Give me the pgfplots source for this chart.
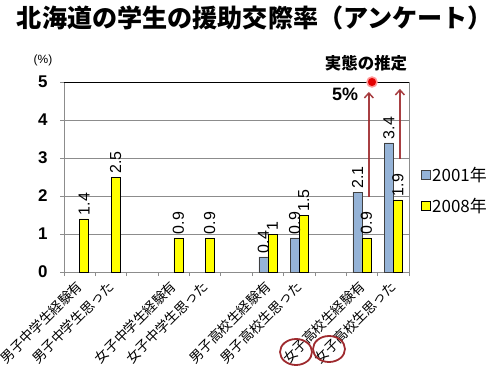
\documentclass[border=0pt]{standalone}
\usepackage{fontspec}
\setmainfont{Liberation Sans}
\newfontfamily\jp{Noto Sans CJK JP}
\usepackage{pgfplots}
\pgfplotsset{compat=1.18}
\usetikzlibrary{arrows.meta}
\definecolor{blu}{HTML}{95B3D7}
\definecolor{ylw}{HTML}{FFFF00}
\definecolor{dred}{HTML}{9E2A2E}
\begin{document}
\begin{tikzpicture}[x=1bp,y=1bp]
\path[use as bounding box] (0,0) rectangle (500,368);
\node[font=\jp\bfseries\fontsize{25.2}{25.2}\selectfont] at (255,350) {北海道の学生の援助交際率（アンケート）};
\node[font=\fontsize{12}{12}\selectfont] at (43,308) {(\%)};
\begin{axis}[at={(64bp,96bp)}, anchor=south west, scale only axis,
  width=345bp, height=190bp,
  xmin=-0.5, xmax=10.5, ymin=0, ymax=5,
  clip=false,
  /pgf/number format/assume math mode=true,
  ytick={0,1,2,3,4,5},
  yticklabel style={font=\bfseries\fontsize{17}{17}\selectfont, xshift=-9bp},
  ymajorgrids, grid style={gray!90, line width=0.8pt},
  axis line style={gray!90, line width=0.8pt},
  tick style={gray!90, line width=0.8pt},
  tick align=outside, xtick pos=bottom, ytick pos=left,
  major tick length=4bp, minor tick length=4bp,
  xtick={0,1,3,4,6,7,9,10},
  xticklabels={男子中学生経験有,男子中学生思った,女子中学生経験有,女子中学生思った,男子高校生経験有,男子高校生思った,女子高校生経験有,女子高校生思った},
  major x tick style={draw=none},
  minor xtick={-0.5,0.5,1.5,2.5,3.5,4.5,5.5,6.5,7.5,8.5,9.5,10.5},
  xticklabel style={font=\jp\fontsize{13.6}{13.6}\selectfont, xshift=1bp, yshift=-7bp, rotate=45, anchor=east, inner sep=1bp},
  nodes near coords,
  legend style={draw=none, fill=none, at={(1.025,0.43)}, anchor=west, font=\jp\fontsize{17}{17}\selectfont, row sep=11bp},
  legend cell align=left,
  legend image code/.code={\draw[#1] (0bp,-4.5bp) rectangle (9bp,4.5bp);},
]
\addplot[ybar, bar width=9bp, bar shift=-4.5bp, fill=blu, draw=black!75,
  every node near coord/.style={xshift=-4.5bp, rotate=90, anchor=west, font=\fontsize{16}{16}\selectfont, black}] coordinates {(6,0.4) (7,0.9) (9,2.1) (10,3.4)};
\addlegendentry{2001年}
\addplot[ybar, bar width=9bp, bar shift=4.5bp, fill=ylw, draw=black,
  every node near coord/.style={xshift=4.5bp, rotate=90, anchor=west, font=\fontsize{16}{16}\selectfont, black}] coordinates {(0,1.4) (1,2.5) (3,0.9) (4,0.9) (6,1) (7,1.5) (9,0.9) (10,1.9)};
\addlegendentry{2008年}
\draw[black, line width=0.8pt] (rel axis cs:0,1) -- (rel axis cs:1,1);
\draw[dred, line width=1.5pt, -{Straight Barb[length=5bp, width=9bp]}, draw opacity=0.9] (axis cs:9.22,1.97) -- (axis cs:9.22,4.74);
\draw[dred, line width=1.5pt, -{Straight Barb[length=5bp, width=9bp]}, draw opacity=0.9] (axis cs:10.21,2.97) -- (axis cs:10.21,4.82);
\addplot[only marks, mark=*, mark size=5bp, mark options={fill=red!90!black, draw=red!40, line width=1.5pt}, nodes near coords={}, forget plot] coordinates {(9.32,5)};
\node[font=\bfseries\fontsize{18}{18}\selectfont] at (axis cs:8.46,4.68) {5\%};
\node[font=\jp\bfseries\fontsize{16.5}{16.5}\selectfont] at (axis cs:9.13,5.5) {実態の推定};
\end{axis}
\draw[dred, line width=1.8pt] (296,16) ellipse [x radius=16bp, y radius=13bp];
\draw[dred, line width=1.8pt] (329,19) ellipse [x radius=16bp, y radius=13bp];
\end{tikzpicture}
\end{document}
